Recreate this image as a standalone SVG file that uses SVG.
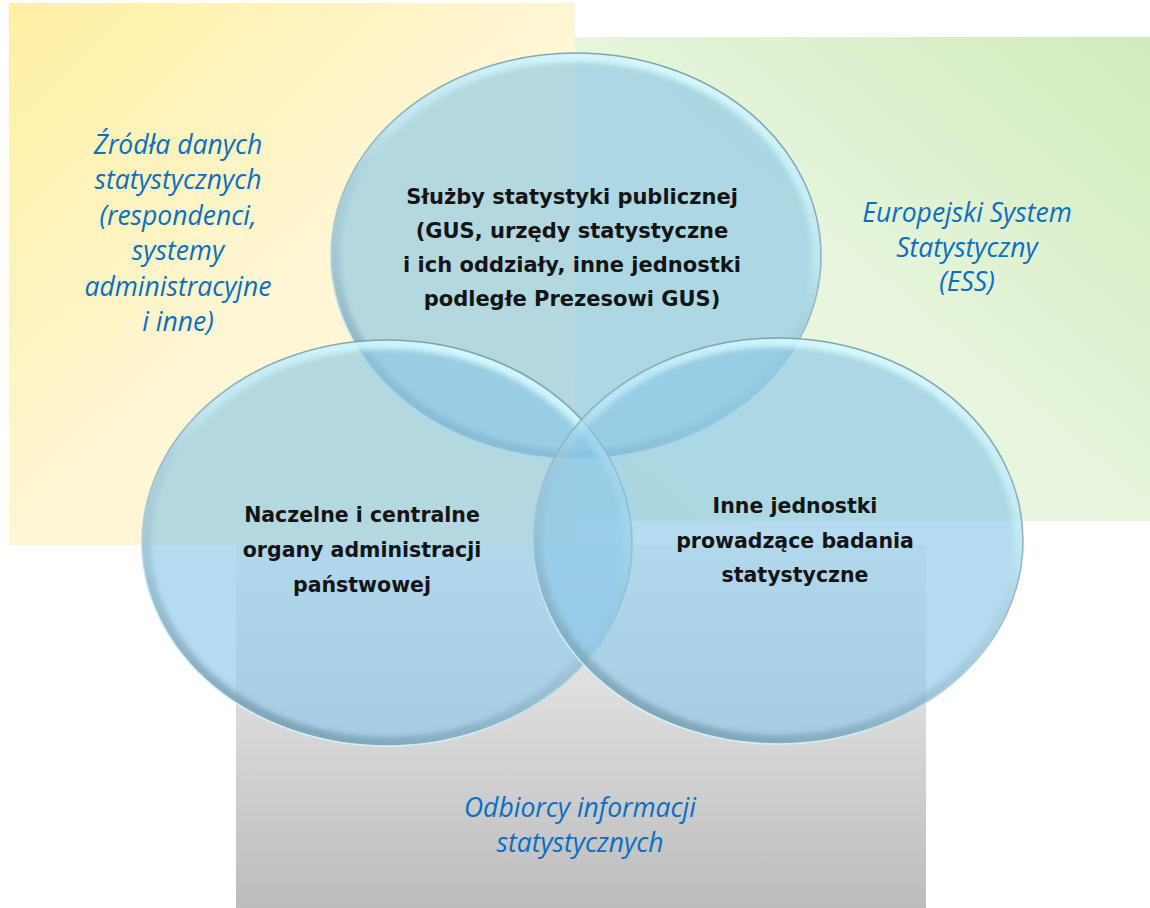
<svg xmlns="http://www.w3.org/2000/svg" width="1150" height="908" viewBox="0 0 1150 908">
  <defs>
    <linearGradient id="gYellow" x1="0" y1="0" x2="1" y2="1">
      <stop offset="0" stop-color="#fff0a2"/>
      <stop offset="0.5" stop-color="#fef6d4"/>
      <stop offset="1" stop-color="#fdf6d6"/>
    </linearGradient>
    <linearGradient id="gGreen" x1="1" y1="0" x2="0" y2="1">
      <stop offset="0" stop-color="#d1ebbc"/>
      <stop offset="0.55" stop-color="#e9f6df"/>
      <stop offset="1" stop-color="#e6f4da"/>
    </linearGradient>
    <linearGradient id="gGray" x1="0" y1="0" x2="0" y2="1">
      <stop offset="0" stop-color="#f4f4f4"/>
      <stop offset="1" stop-color="#bcbcbc"/>
    </linearGradient>
    <linearGradient id="gRim" x1="0.7" y1="0" x2="0.3" y2="1">
      <stop offset="0" stop-color="#d8fbff" stop-opacity="0.95"/>
      <stop offset="0.35" stop-color="#c8f2fa" stop-opacity="0.6"/>
      <stop offset="0.55" stop-color="#8fb4c6" stop-opacity="0.25"/>
      <stop offset="1" stop-color="#6d93a8" stop-opacity="0.75"/>
    </linearGradient>
    <linearGradient id="gEdge" x1="0.7" y1="0" x2="0.3" y2="1">
      <stop offset="0" stop-color="#6f92a3"/>
      <stop offset="0.5" stop-color="#93b6c4"/>
      <stop offset="0.85" stop-color="#d3f5fa"/>
      <stop offset="1" stop-color="#dff9fc"/>
    </linearGradient>
    <ellipse id="ell" cx="0" cy="0" rx="245" ry="203"/>
    <clipPath id="clipEll">
      <ellipse cx="0" cy="0" rx="245" ry="203"/>
    </clipPath>
    <filter id="soft" x="-10%" y="-10%" width="120%" height="120%">
      <feGaussianBlur stdDeviation="2.5"/>
    </filter>
    <style>
      .fill { fill: rgb(140,200,230); fill-opacity: 0.65; }
      .rim { fill: none; stroke: url(#gRim); stroke-width: 18; }
      .edge { fill: none; stroke: url(#gEdge); stroke-opacity: 0.85; stroke-width: 1.6; }
      .blue { font-family: "Open Sans", "Noto Sans", sans-serif; font-style: italic; font-size: 26.5px; fill: #0a6fc2; text-anchor: middle; }
      .black { font-family: "DejaVu Sans", sans-serif; font-weight: bold; font-size: 20.5px; fill: #141414; text-anchor: middle; }
    </style>
  </defs>

  <rect width="1150" height="908" fill="#ffffff"/>

  <g id="zrodla">
    <rect x="9" y="3" width="566" height="542" fill="url(#gYellow)"/>
    <text class="blue"><tspan x="178" y="154">Źródła danych</tspan><tspan x="178" y="189">statystycznych</tspan><tspan x="178" y="225">(respondenci,</tspan><tspan x="178" y="260">systemy</tspan><tspan x="178" y="296">administracyjne</tspan><tspan x="178" y="331">i inne)</tspan></text>
  </g>

  <g id="ess">
    <rect x="575" y="37" width="575" height="484" fill="url(#gGreen)"/>
    <text class="blue"><tspan x="967" y="222">Europejski System</tspan><tspan x="967" y="257">Statystyczny</tspan><tspan x="967" y="291">(ESS)</tspan></text>
  </g>

  <g id="odbiorcy">
    <rect x="236" y="545" width="690" height="363" fill="url(#gGray)"/>
    <text class="blue"><tspan x="580" y="817">Odbiorcy informacji</tspan><tspan x="580" y="852">statystycznych</tspan></text>
  </g>

  <g id="connectors"/>

  <g id="sluzby" transform="translate(576,256)">
    <use href="#ell" class="fill"/>
    <g clip-path="url(#clipEll)"><use href="#ell" class="rim" filter="url(#soft)"/></g>
    <use href="#ell" class="edge"/>
  </g>

  <g id="naczelne" transform="translate(387,543)">
    <use href="#ell" class="fill"/>
    <g clip-path="url(#clipEll)"><use href="#ell" class="rim" filter="url(#soft)"/></g>
    <use href="#ell" class="edge"/>
  </g>

  <g id="inne" transform="translate(778,541)">
    <use href="#ell" class="fill"/>
    <g clip-path="url(#clipEll)"><use href="#ell" class="rim" filter="url(#soft)"/></g>
    <use href="#ell" class="edge"/>
  </g>

  <g id="labels">
    <text class="black" style="font-size:21px"><tspan x="572" y="204">Służby statystyki publicznej</tspan><tspan x="572" y="238">(GUS, urzędy statystyczne</tspan><tspan x="572" y="272">i ich oddziały, inne jednostki</tspan><tspan x="572" y="306">podległe Prezesowi GUS)</tspan></text>
    <text class="black"><tspan x="362" y="522">Naczelne i centralne</tspan><tspan x="362" y="557">organy administracji</tspan><tspan x="362" y="592">państwowej</tspan></text>
    <text class="black"><tspan x="795" y="513">Inne jednostki</tspan><tspan x="795" y="548">prowadzące badania</tspan><tspan x="795" y="582">statystyczne</tspan></text>
  </g>
</svg>
